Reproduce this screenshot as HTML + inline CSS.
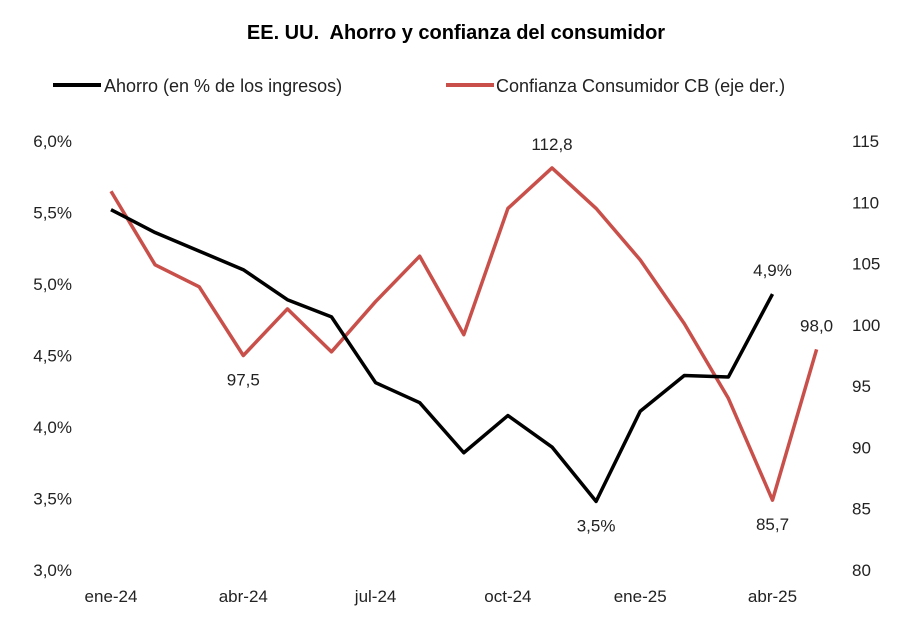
<!DOCTYPE html>
<html><head><meta charset="utf-8"><style>
body{margin:0;background:#fff;}
svg{display:block;font-family:"Liberation Sans",sans-serif;}
</style></head><body>
<svg id="chart" width="912" height="636">
<text x="456" y="39" text-anchor="middle" font-size="20" font-weight="bold" fill="#000">EE. UU.&#160; Ahorro y confianza del consumidor</text>
<g>
<line x1="53" y1="85" x2="101" y2="85" stroke="#000" stroke-width="4"/>
<text x="104" y="92" font-size="18" fill="#222">Ahorro (en % de los ingresos)</text>
<line x1="446" y1="85" x2="494" y2="85" stroke="#c9504a" stroke-width="4"/>
<text x="496" y="92" font-size="18" fill="#222">Confianza Consumidor CB (eje der.)</text>
</g>
<g id="axes"></g>
<g id="marks"></g>
</svg>
<script>
const months = ["ene-24","feb-24","mar-24","abr-24","may-24","jun-24","jul-24","ago-24","sep-24","oct-24","nov-24","dic-24","ene-25","feb-25","mar-25","abr-25","may-25"];
const xTickLabels = ["ene-24","abr-24","jul-24","oct-24","ene-25","abr-25"];
const ahorro = [5.52,5.36,5.23,5.10,4.89,4.77,4.31,4.17,3.82,4.08,3.86,3.48,4.11,4.36,4.35,4.93];
const confianza = [110.9,104.9,103.1,97.5,101.3,97.8,101.9,105.6,99.2,109.5,112.8,109.5,105.3,100.1,94.0,85.7,98.0];
const leftTicks = [3.0,3.5,4.0,4.5,5.0,5.5,6.0];
const rightTicks = [80,85,90,95,100,105,110,115];
const ahorroLabels = [[11,"3,5%","below"],[15,"4,9%","above"]];
const confLabels = [[3,"97,5","below"],[10,"112,8","above"],[15,"85,7","below"],[16,"98,0","above"]];

const plotTop=141,plotBot=570;
const x=i=>111+i*44.1;
const yL=v=>plotBot-(v-3)/3*(plotBot-plotTop);
const yR=v=>plotBot-(v-80)/35*(plotBot-plotTop);
const NS="http://www.w3.org/2000/svg";
const axes=document.getElementById('axes'),marks=document.getElementById('marks');
function t(p,xx,yy,s,anchor,name){const e=document.createElementNS(NS,'text');e.setAttribute('x',xx);e.setAttribute('y',yy);e.setAttribute('font-size','17');e.setAttribute('fill','#222');e.setAttribute('text-anchor',anchor);e.textContent=s;


p.appendChild(e);}
leftTicks.forEach(v=>t(axes,72,yL(v)+6,v.toFixed(1).replace('.',',')+'%','end','left-tick-label'));
rightTicks.forEach(v=>t(axes,852,yR(v)+6,String(v),'start','right-tick-label'));
xTickLabels.forEach(m=>t(axes,x(months.indexOf(m)),602,m,'middle','x-tick-label'));
function line(vals,fy,col,name){const p=document.createElementNS(NS,'polyline');p.setAttribute('points',vals.map((v,i)=>x(i)+','+fy(v)).join(' '));p.setAttribute('fill','none');p.setAttribute('stroke',col);p.setAttribute('stroke-width','3.5');p.setAttribute('stroke-linejoin','round');


marks.appendChild(p);}
line(confianza,yR,'#c9504a','confianza-line');
line(ahorro,yL,'#000','ahorro-line');
ahorroLabels.forEach(([i,s,pos])=>t(marks,x(i),yL(ahorro[i])+(pos==='below'?30:-18),s,'middle','ahorro-value-label'));
confLabels.forEach(([i,s,pos])=>t(marks,x(i),yR(confianza[i])+(pos==='below'?30:-18),s,'middle','confianza-value-label'));
</script>
</body></html>
